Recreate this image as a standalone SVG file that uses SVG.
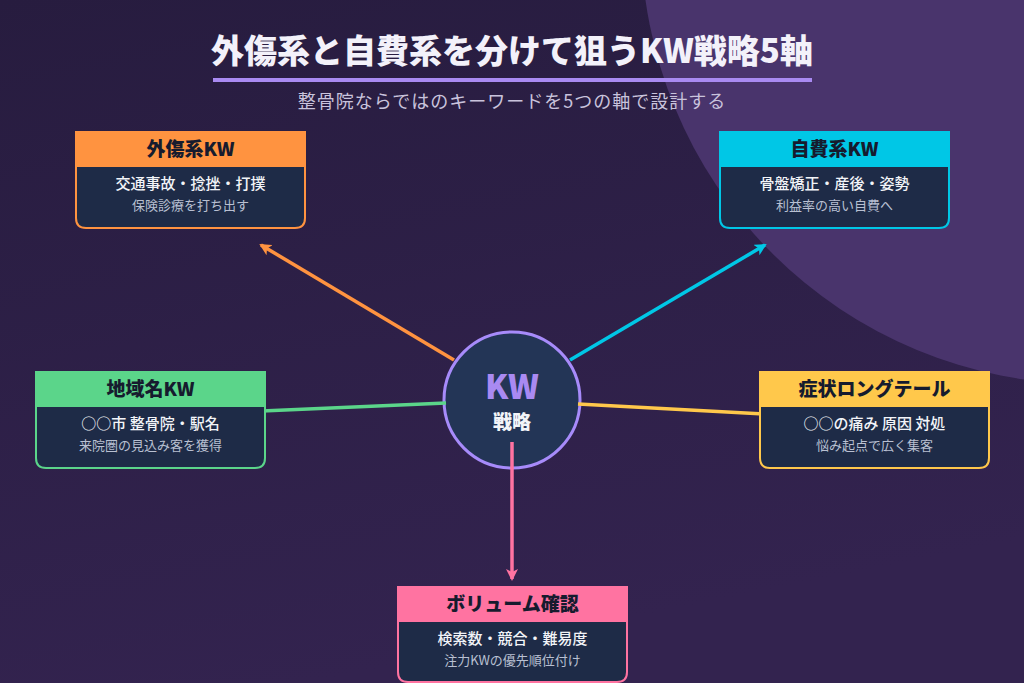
<svg xmlns="http://www.w3.org/2000/svg" width="1024" height="683" viewBox="0 0 1024 683">
<defs>
<linearGradient id="bg" x1="0" y1="0" x2="0.3" y2="1">
<stop offset="0" stop-color="#271c3f"/>
<stop offset="1" stop-color="#33234f"/>
</linearGradient>
<marker id="ah-o" viewBox="0 0 12 12" refX="10" refY="6" markerWidth="12" markerHeight="12" markerUnits="userSpaceOnUse" orient="auto"><path d="M0,0 L12,6 L0,12 L3,6 z" fill="#ff9340"/></marker>
<marker id="ah-c" viewBox="0 0 12 12" refX="10" refY="6" markerWidth="12" markerHeight="12" markerUnits="userSpaceOnUse" orient="auto"><path d="M0,0 L12,6 L0,12 L3,6 z" fill="#00c7e6"/></marker>
<marker id="ah-p" viewBox="0 0 12 12" refX="10" refY="6" markerWidth="12" markerHeight="12" markerUnits="userSpaceOnUse" orient="auto"><path d="M0,0 L12,6 L0,12 L3,6 z" fill="#ff73a1"/></marker>
</defs>
<style>
text{font-family:"Noto Sans CJK JP","Noto Sans",sans-serif;text-anchor:middle}
.title{font-size:33px;font-weight:900;fill:#f3f1fa}
.sub{font-size:18px;fill:#c9c3dc;letter-spacing:1px}
.body{fill:#1e2b47;stroke-width:2}
.hd{font-size:19px;font-weight:900;fill:#161b2e}
.l1{font-size:15px;font-weight:500;fill:#f2f4f8}
.l2{font-size:13px;fill:#b9c0d2}
.conn{fill:none;stroke-width:3.5}
</style>
<rect width="1024" height="683" fill="url(#bg)"/>
<circle cx="1088" cy="-63" r="447" fill="#49346c"/>
<g id="title">
<text class="title" x="512" y="63">外傷系と自費系を分けて狙うKW戦略5軸</text>
<rect x="213" y="78" width="599" height="4" fill="#a98af2"/>
<text class="sub" x="512" y="108">整骨院ならではのキーワードを5つの軸で設計する</text>
</g>
<g id="center">
<circle cx="512" cy="400" r="68" fill="#233556" stroke="#a78bfa" stroke-width="3"/>
<text x="512" y="399" font-size="33" font-weight="900" fill="#a98af2">KW</text>
<text x="512" y="429" font-size="19" font-weight="900" fill="#f2f4f8">戦略</text>
</g>
<g id="connectors">
<line class="conn" x1="454" y1="360" x2="261" y2="245" stroke="#ff9340" marker-end="url(#ah-o)"/>
<line class="conn" x1="570" y1="360" x2="765" y2="245" stroke="#00c7e6" marker-end="url(#ah-c)"/>
<line class="conn" x1="446" y1="403" x2="262" y2="411" stroke="#5bd58a"/>
<line class="conn" x1="578" y1="404" x2="764" y2="414" stroke="#ffc84b"/>
<line class="conn" x1="512" y1="442" x2="512" y2="579" stroke="#ff73a1" marker-end="url(#ah-p)"/>
</g>
<g id="node-trauma">
<path class="body" d="M76,132 H305 V218 Q305,228 295,228 H86 Q76,228 76,218 Z" stroke="#ff9340"/>
<rect x="75" y="131" width="231" height="36" fill="#ff9340"/>
<text class="hd" x="190.5" y="156">外傷系KW</text>
<text class="l1" x="190.5" y="189">交通事故・捻挫・打撲</text>
<text class="l2" x="190.5" y="210">保険診療を打ち出す</text>
</g>
<g id="node-self">
<path class="body" d="M720,132 H949 V218 Q949,228 939,228 H730 Q720,228 720,218 Z" stroke="#00c7e6"/>
<rect x="719" y="131" width="231" height="36" fill="#00c7e6"/>
<text class="hd" x="834.5" y="156">自費系KW</text>
<text class="l1" x="834.5" y="189">骨盤矯正・産後・姿勢</text>
<text class="l2" x="834.5" y="210">利益率の高い自費へ</text>
</g>
<g id="node-region">
<path class="body" d="M36,372 H265 V458 Q265,468 255,468 H46 Q36,468 36,458 Z" stroke="#5bd58a"/>
<rect x="35" y="371" width="231" height="36" fill="#5bd58a"/>
<text class="hd" x="150.5" y="396">地域名KW</text>
<text class="l1" x="150.5" y="429">○○市 整骨院・駅名</text>
<text class="l2" x="150.5" y="450">来院圏の見込み客を獲得</text>
</g>
<g id="node-symptom">
<path class="body" d="M760,372 H989 V458 Q989,468 979,468 H770 Q760,468 760,458 Z" stroke="#ffc84b"/>
<rect x="759" y="371" width="231" height="36" fill="#ffc84b"/>
<text class="hd" x="874.5" y="396">症状ロングテール</text>
<text class="l1" x="874.5" y="429">○○の痛み 原因 対処</text>
<text class="l2" x="874.5" y="450">悩み起点で広く集客</text>
</g>
<g id="node-volume">
<path class="body" d="M398,587 H627 V672 Q627,682 617,682 H408 Q398,682 398,672 Z" stroke="#ff73a1"/>
<rect x="397" y="586" width="231" height="36" fill="#ff73a1"/>
<text class="hd" x="512.5" y="611">ボリューム確認</text>
<text class="l1" x="512.5" y="644">検索数・競合・難易度</text>
<text class="l2" x="512.5" y="665">注力KWの優先順位付け</text>
</g>
</svg>
